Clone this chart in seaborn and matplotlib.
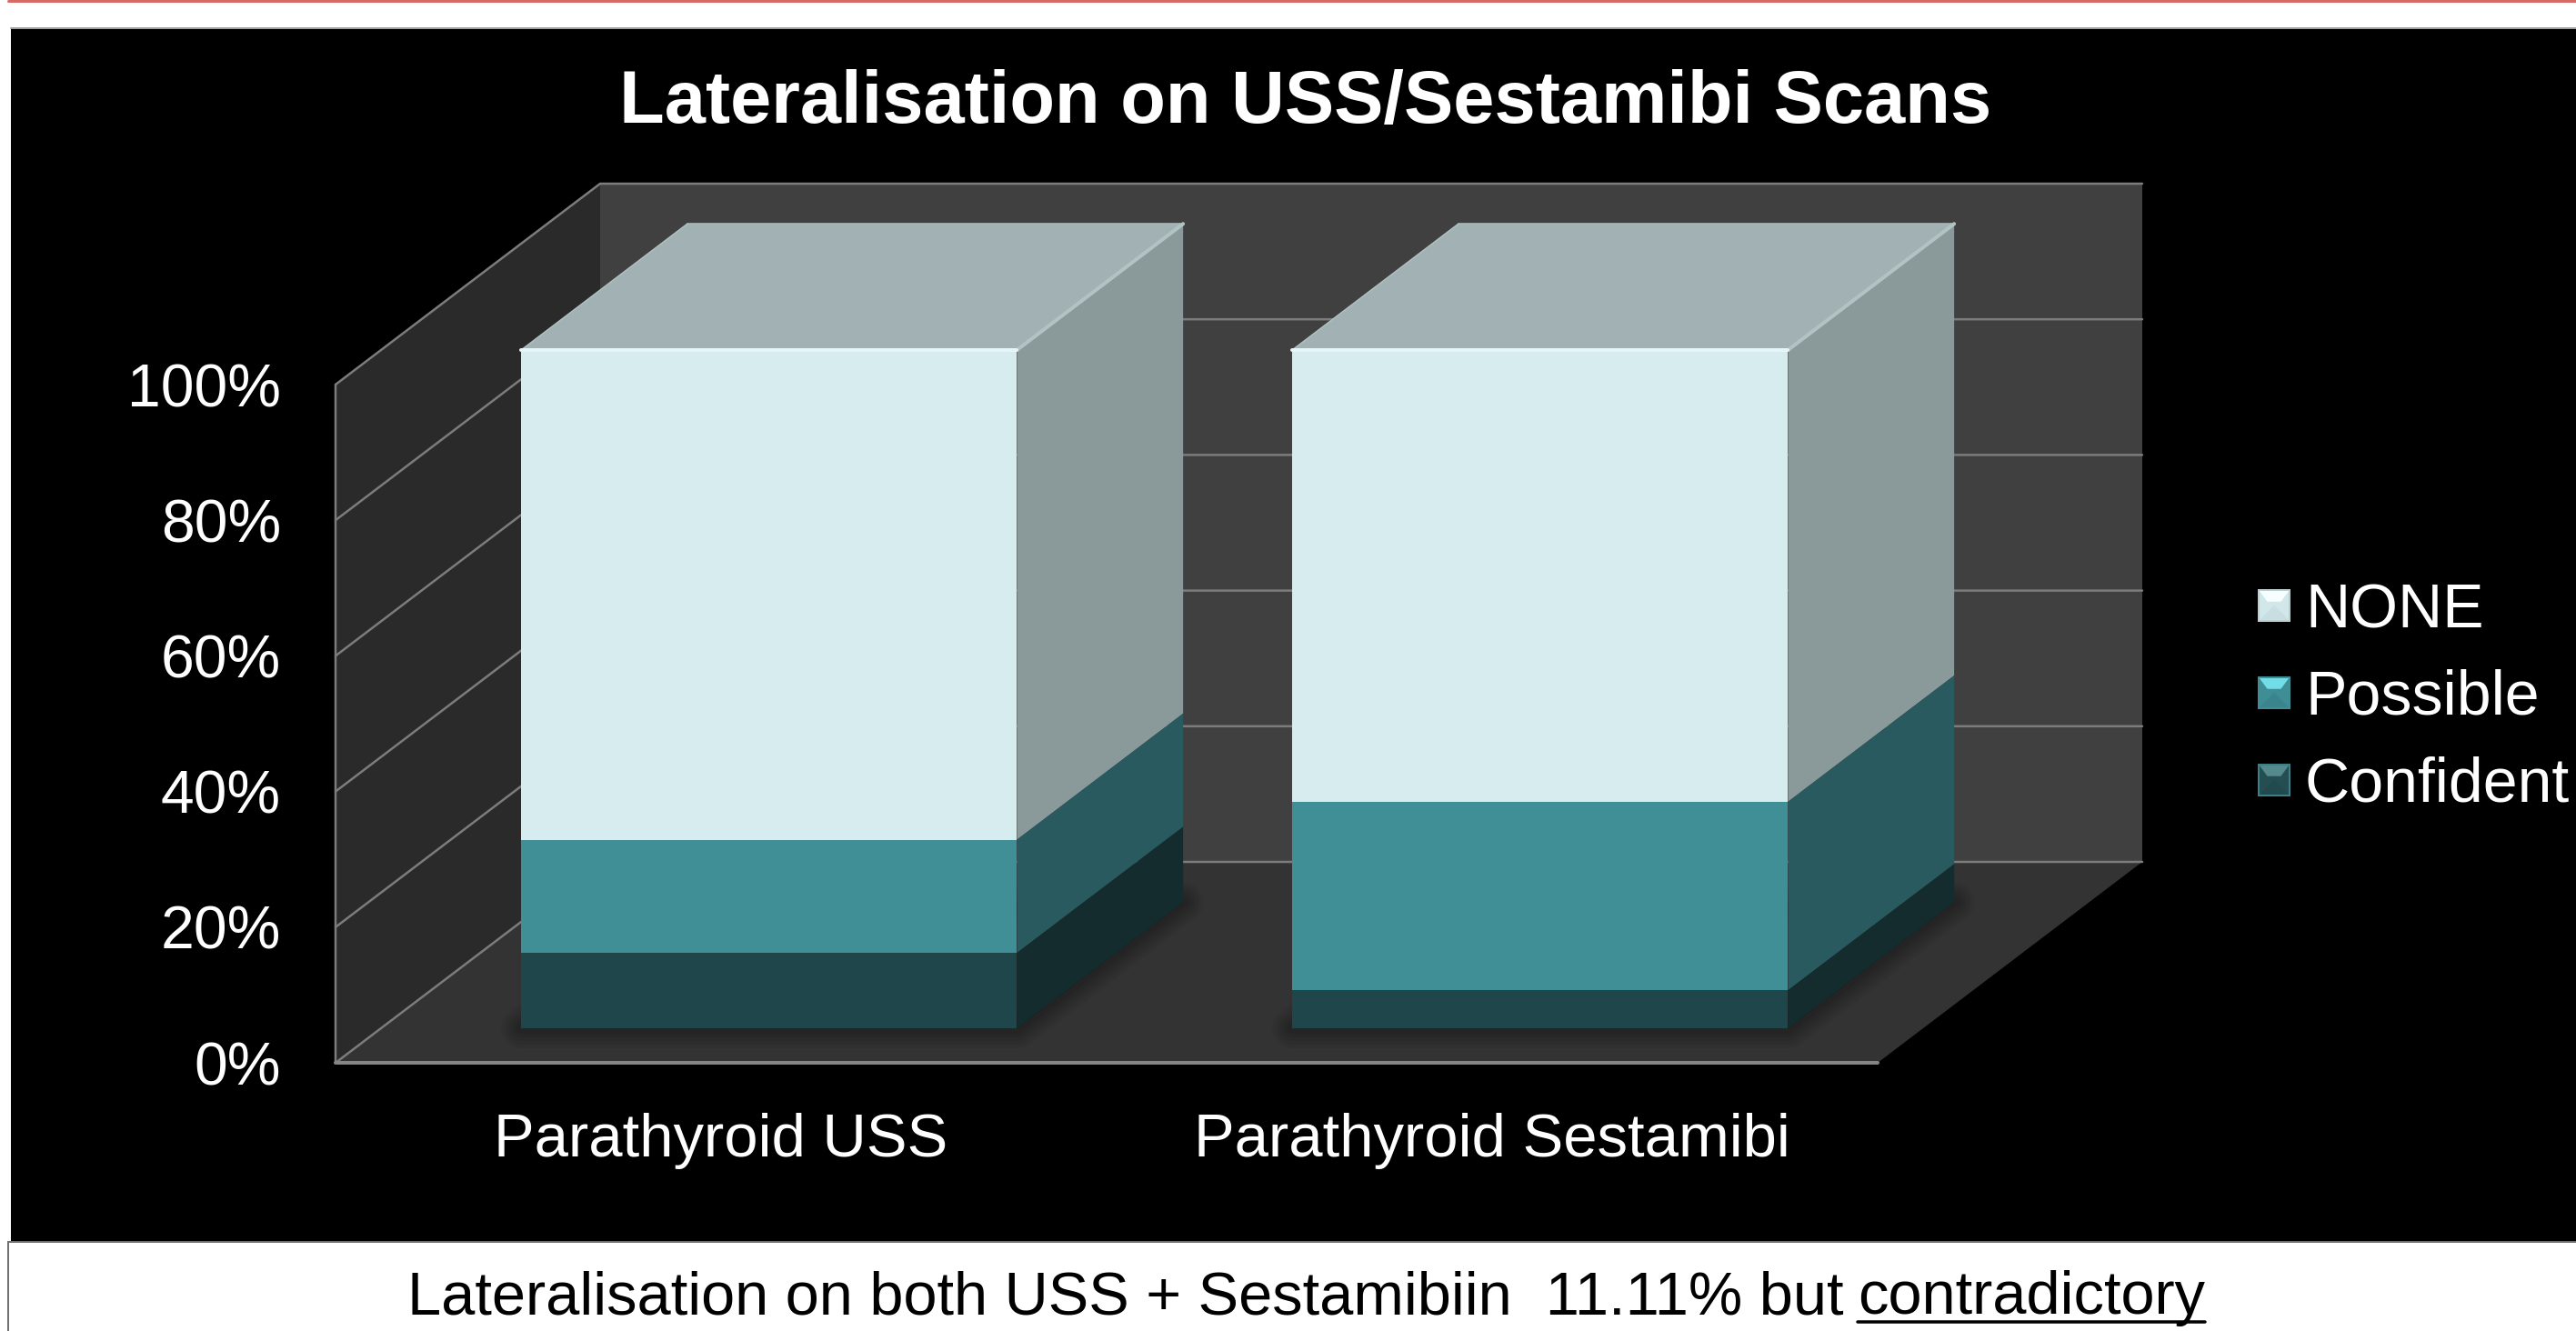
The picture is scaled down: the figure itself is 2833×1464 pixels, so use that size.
import numpy as np
import pandas as pd
import seaborn as sns
import matplotlib
matplotlib.use("Agg")
import matplotlib.pyplot as plt
from matplotlib.patches import Polygon, Rectangle, Patch
from matplotlib.lines import Line2D
from matplotlib.legend_handler import HandlerBase
from matplotlib.transforms import Affine2D

# ---------- data ----------
categories = ["Parathyroid USS", "Parathyroid Sestamibi"]
confident = [11.1, 5.6]
possible = [16.7, 27.8]
none_vals = [72.2, 66.6]
series_names = ["NONE", "Possible", "Confident"]
y_ticks = [0, 20, 40, 60, 80, 100]
y_tick_labels = ["0%", "20%", "40%", "60%", "80%", "100%"]
title = "Lateralisation on USS/Sestamibi Scans"
caption_a = "Lateralisation on both USS + Sestamibiin  11.11% but"
caption_b = "contradictory"

# ---------- styling ----------
W, H = 2833, 1464
DPI = 100
pt = 72 / DPI
sns.set_theme(style="white")
plt.rcParams["font.family"] = ["Liberation Sans", "DejaVu Sans"]

FRONT = {"NONE": "#D7ECEF", "Possible": "#408E96", "Confident": "#1F464A"}
SIDE = {"NONE": "#8A9999", "Possible": "#285A60", "Confident": "#142C2E"}
TOP = "#A2B1B4"
BACK_WALL, LEFT_WALL, FLOOR = "#404040", "#2A2A2A", "#333333"
GRID = "#7C7C7C"

# frame of the 3D box, in pixels
AX_L, AX_B, AX_R, AX_T = 369, 1169, 2065, 423
DEPTH_X, DEPTH_Y = 291, 221
BAR_D0, BAR_D1 = 0.172, 0.80
BAR_W = 0.643
BAR_NUDGE = 0.0032

fig = plt.figure(figsize=(W / DPI, H / DPI), dpi=DPI, facecolor="white")


def fx(p):
    return p / W


def fy(p):
    return 1 - p / H


# slide background
fig.add_artist(Rectangle((fx(12), fy(1366)), fx(W), 1336 / H, transform=fig.transFigure,
                         facecolor="black", edgecolor="none", zorder=-5))
fig.add_artist(Line2D([fx(12), 1], [fy(31), fy(31)], color="#A0A0A0", lw=2 * pt, zorder=-4))
fig.add_artist(Line2D([fx(9), 1], [fy(1), fy(1)], color="#D86A66", lw=3 * pt, zorder=-4))
fig.add_artist(Line2D([fx(9), 1], [fy(1366), fy(1366)], color="#707070", lw=2 * pt, zorder=-4))
fig.add_artist(Line2D([fx(9), fx(9)], [fy(1366), 0], color="#707070", lw=2 * pt, zorder=-4))

ax = fig.add_axes([fx(AX_L), fy(AX_B), (AX_R - AX_L) / W, (AX_B - AX_T) / H])
ax.patch.set_alpha(0)

conf = np.array(confident)
poss = conf + np.array(possible)
full = poss + np.array(none_vals)
tops = {"NONE": full, "Possible": poss, "Confident": conf}
bottoms = {"NONE": poss, "Possible": conf, "Confident": np.zeros(2)}

# front faces through seaborn (tallest stack first)
for z, name in enumerate(series_names):
    n0 = len(ax.patches)
    frame = pd.DataFrame({"cat": categories, "top": tops[name]})
    sns.barplot(data=frame, x="cat", y="top", color=FRONT[name], saturation=1,
                width=BAR_W, errorbar=None, ax=ax, zorder=10 + z, linewidth=0)
    tops[name + "_bars"] = ax.patches[n0:]

ax.set_xlim(-0.5, 1.5)
ax.set_ylim(0, 100)

# one unit of depth in data coordinates
DX = DEPTH_X / (AX_R - AX_L) * 2
DY = DEPTH_Y / (AX_B - AX_T) * 100


def proj(x, y, d):
    return (x + d * DX, y + d * DY)


shift = Affine2D().translate(BAR_D0 * DX + BAR_NUDGE, BAR_D0 * DY) + ax.transData
for name in series_names:
    for bar in tops[name + "_bars"]:
        bar.set_transform(shift)
        bar.set_clip_on(False)


def poly(points, color, z, **kw):
    ax.add_patch(Polygon(points, closed=True, facecolor=color, edgecolor=kw.pop("edge", "none"),
                         zorder=z, clip_on=False, **kw))


def line(points, z=2, lw=2.5, color=GRID):
    xs, ys = zip(*points)
    ax.add_line(Line2D(xs, ys, color=color, lw=lw * pt, zorder=z, clip_on=False))


# walls and floor
x0, x1 = -0.5, 1.5
poly([proj(x0, 0, 1), proj(x1, 0, 1), proj(x1, 100, 1), proj(x0, 100, 1)], BACK_WALL, 1)
poly([proj(x0, 0, 0), proj(x0, 0, 1), proj(x0, 100, 1), proj(x0, 100, 0)], LEFT_WALL, 1)
poly([proj(x0, 0, 0), proj(x1, 0, 0), proj(x1, 0, 1), proj(x0, 0, 1)], FLOOR, 1)

for t in y_ticks:
    line([proj(x0, t, 0), proj(x0, t, 1), proj(x1, t, 1)])
line([proj(x0, 0, 0), proj(x0, 100, 0)])
line([proj(x0, 0, 0), proj(x1, 0, 0)], lw=4, color="#858585")

# 3D faces of the bars
for i in range(len(categories)):
    xl, xr = i - BAR_W / 2 + BAR_NUDGE, i + BAR_W / 2 + BAR_NUDGE
    foot = [proj(xl, 0, BAR_D0), proj(xr, 0, BAR_D0), proj(xr, 0, BAR_D1), proj(xl, 0, BAR_D1)]
    for lw in (44, 36, 28, 20, 12):
        ax.add_patch(Polygon(foot, closed=True, facecolor="black", edgecolor="black",
                             lw=lw * pt, alpha=0.06, joinstyle="round", zorder=3, clip_on=False))
    for name in series_names:
        lo, hi = bottoms[name][i], tops[name][i]
        poly([proj(xr, lo, BAR_D0), proj(xr, lo, BAR_D1), proj(xr, hi, BAR_D1), proj(xr, hi, BAR_D0)],
             SIDE[name], 6)
        if name == "NONE":
            line([proj(xl, hi, BAR_D0), proj(xr, hi, BAR_D0)], z=20, lw=4, color="#E4F6F8")
    h = full[i]
    poly([proj(xl, h, BAR_D0), proj(xr, h, BAR_D0), proj(xr, h, BAR_D1), proj(xl, h, BAR_D1)], TOP, 7)
    line([proj(xr, h, BAR_D0), proj(xr, h, BAR_D1)], z=8, lw=4, color="#B0C4C3")
    line([proj(xl, h, BAR_D0), proj(xl, h, BAR_D1)], z=8, lw=1.5, color="#AFC2C2")
    line([proj(xl, h, BAR_D1), proj(xr, h, BAR_D1)], z=8, lw=1.5, color="#AFC2C2")

# axes text
sns.despine(ax=ax, left=True, bottom=True, top=True, right=True)
ax.set_xlabel("")
ax.set_ylabel("")
ax.set_yticks(y_ticks, y_tick_labels)
ax.tick_params(axis="y", length=0, pad=60 * pt, labelsize=66 * pt, labelcolor="white")
ax.tick_params(axis="x", length=0, pad=55 * pt, labelsize=67 * pt, labelcolor="white")
ax.set_title(title, color="white", fontsize=81.4 * pt, fontweight="bold",
             x=(1436 - AX_L) / (AX_R - AX_L), y=(AX_B - 143) / (AX_B - AX_T), va="baseline")


# legend with bevelled keys
class Bevel(HandlerBase):
    def __init__(self, top, mid, bottom, edge):
        super().__init__()
        self.c = (top, mid, bottom, edge)

    def create_artists(self, legend, orig, xd, yd, width, height, fontsize, trans):
        top, mid, bottom, edge = self.c
        s = 34 * pt
        x, y = (width - s) / 2 - xd, (height - s) / 2 - yd
        arts = [Rectangle((x, y), s, s, facecolor=mid, edgecolor="none", transform=trans),
                Polygon([(x, y), (x + s, y), (x + 0.5 * s, y + 0.5 * s)], closed=True,
                        facecolor=bottom, edgecolor="none", transform=trans),
                Polygon([(x, y + s), (x + s, y + s), (x + 0.72 * s, y + 0.62 * s), (x + 0.28 * s, y + 0.62 * s)],
                        closed=True, facecolor=top, edgecolor="none", transform=trans),
                Rectangle((x, y), s, s, facecolor="none", edgecolor=edge, lw=2 * pt, transform=trans)]
        return arts


handles = [Patch(label=n) for n in series_names]
hmap = {handles[0]: Bevel("#F6FEFF", "#D2E7EA", "#C8DEE1", "#BCD0D2"),
        handles[1]: Bevel("#72DDE6", "#3F8E96", "#3A858D", "#3F8E96"),
        handles[2]: Bevel("#548A8D", "#244E52", "#214A4E", "#3A8086")}
leg = ax.legend(handles=handles, handler_map=hmap, loc="upper left",
                bbox_to_anchor=(fx(2484), fy(640)), bbox_transform=fig.transFigure,
                frameon=False, fontsize=68 * pt, labelcolor="white", borderpad=0, borderaxespad=0,
                handlelength=0.5, handleheight=0.5, handletextpad=0.25, labelspacing=0.47)

# caption
cap_kw = dict(color="black", fontsize=66.7 * pt, va="baseline", transform=fig.transFigure)
fig.text(fx(2027), fy(1445), caption_a, ha="right", **cap_kw)
fig.text(fx(2043), fy(1445), caption_b, ha="left", **cap_kw)
fig.add_artist(Line2D([fx(2043), fx(2425)], [fy(1454), fy(1454)], color="black", lw=3.5 * pt))

fig.savefig("out.png", dpi=DPI, facecolor="white")
